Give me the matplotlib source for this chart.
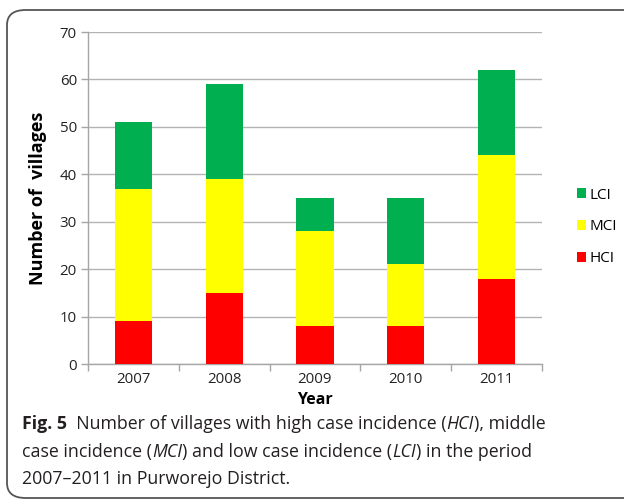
import matplotlib
matplotlib.use("Agg")
import matplotlib.pyplot as plt
from matplotlib.patches import FancyBboxPatch, Patch

years = ["2007", "2008", "2009", "2010", "2011"]
hci = [9, 15, 8, 8, 18]
mci = [28, 24, 20, 13, 26]
lci = [14, 20, 7, 14, 18]
series_labels = ["HCI", "MCI", "LCI"]
colors = ["#FF0000", "#FFFF00", "#00B050"]

W, H = 624, 499
fig = plt.figure(figsize=(W / 100, H / 100), dpi=100)
fig.patch.set_facecolor("white")

# rounded border
border = FancyBboxPatch((7 / W, 1 - 498 / H), (700 - 7) / W, (498 - 10) / H,
                        boxstyle="round,pad=0,rounding_size=0.03",
                        transform=fig.transFigure, facecolor="none",
                        edgecolor="#555555", linewidth=1.3, clip_on=False)
fig.patches.append(border)

ax = fig.add_axes([88 / W, 1 - 364 / H, (542 - 88) / W, (364 - 32) / H])
x = list(range(len(years)))
bottom2 = [a + b for a, b in zip(hci, mci)]
bw = 0.41
ax.bar(x, hci, width=bw, color=colors[0], edgecolor="none", zorder=3)
ax.bar(x, mci, width=bw, bottom=hci, color=colors[1], edgecolor="none", zorder=3)
ax.bar(x, lci, width=bw, bottom=bottom2, color=colors[2], edgecolor="none", zorder=3)

ax.set_xlim(-0.5, len(years) - 0.5)
ax.set_ylim(0, 70)
ax.set_yticks(range(0, 71, 10))
ax.yaxis.grid(True, color="#b3b3b3", linewidth=1.0, zorder=0)
ax.set_axisbelow(True)
for s in ["top", "right"]:
    ax.spines[s].set_visible(False)
for s in ["left", "bottom"]:
    ax.spines[s].set_color("#a6a6a6")
    ax.spines[s].set_linewidth(1.0)

ax.set_xticks(x)
ax.set_xticklabels(years, fontsize=10.8, family="Open Sans")
ax.tick_params(axis="x", length=0, pad=6)
ax.set_xticks([i - 0.5 for i in range(len(years) + 1)], minor=True)
ax.tick_params(axis="x", which="minor", length=5, color="#a6a6a6", width=1)
ax.tick_params(axis="y", length=5, color="#a6a6a6", width=1, labelsize=10.8, pad=3)
for lab in ax.get_yticklabels():
    lab.set_family("Open Sans")
    lab.set_color("#222222")
for lab in ax.get_xticklabels():
    lab.set_color("#222222")

fig.text(38 / W, 1 - 198 / H, "Number of  villages", rotation=90, ha="center",
         va="center", fontsize=13, fontweight="bold", family="Open Sans")
fig.text(315 / W, 1 - 400 / H, "Year", ha="center", va="center",
         fontsize=11.5, fontweight="bold", family="Open Sans")

handles = [Patch(facecolor=colors[2], edgecolor="none"),
           Patch(facecolor=colors[1], edgecolor="none"),
           Patch(facecolor=colors[0], edgecolor="none")]
fig.legend(handles, ["LCI", "MCI", "HCI"], loc="center left",
           bbox_to_anchor=(563 / W, 1 - 227 / H), frameon=False,
           handlelength=0.6, handleheight=0.6, handletextpad=0.25,
           labelspacing=1.1, prop={"family": "Open Sans", "size": 11})

# caption
fig.canvas.draw()
renderer = fig.canvas.get_renderer()
cap_fs = 12.8
lines = [
    [("Fig. 5", "bold", "normal"), ("  Number of villages with high case incidence (", "normal", "normal"),
     ("HCI", "normal", "italic"), ("), middle", "normal", "normal")],
    [("case incidence (", "normal", "normal"), ("MCI", "normal", "italic"),
     (") and low case incidence (", "normal", "normal"), ("LCI", "normal", "italic"),
     (") in the period", "normal", "normal")],
    [("2007\u20132011 in Purworejo District.", "normal", "normal")],
]
ys = [424, 452, 479]
for line, yp in zip(lines, ys):
    xp = 22
    for txt, wt, st in line:
        t = fig.text(xp / W, 1 - yp / H, txt, fontsize=cap_fs, fontweight=wt,
                     fontstyle=st, family="Open Sans", ha="left", va="center",
                     color="#231f20")
        bb = t.get_window_extent(renderer=renderer)
        xp += bb.width

fig.savefig("out.png", dpi=100, facecolor="white")
